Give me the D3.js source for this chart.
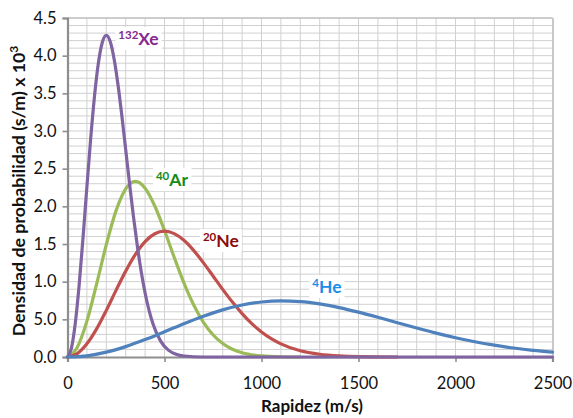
<!DOCTYPE html>
<html>
<head>
<meta charset="utf-8">
<script src="https://cdn.jsdelivr.net/npm/d3@7"></script>
<style>
  html, body { margin: 0; padding: 0; background: #fff; }
  svg { display: block; font-family: Lato, "Open Sans", sans-serif; }
</style>
</head>
<body>
<svg id="chart" width="573" height="418"></svg>
<script>
// Maxwell–Boltzmann speed distributions of four noble gases
// density in (s/m) x 10^3 versus speed in m/s

const xenon = [
  [0, 0], [20, 0.115], [40, 0.446], [60, 0.955], [80, 1.582], [100, 2.260],
  [120, 2.915], [140, 3.484], [160, 3.917], [180, 4.182], [200, 4.270],
  [220, 4.188], [240, 3.960], [260, 3.620], [280, 3.205], [300, 2.752],
  [320, 2.297], [340, 1.864], [360, 1.473], [380, 1.133], [400, 0.850],
  [440, 0.444], [480, 0.211], [520, 0.091], [560, 0.036], [600, 0.013],
  [700, 0], [1000, 0], [1500, 0], [2000, 0], [2500, 0]
];

const argon = [
  [0, 0], [50, 0.127], [100, 0.476], [150, 0.968], [200, 1.492], [250, 1.940],
  [300, 2.232], [350, 2.330], [400, 2.241], [450, 2.004], [500, 1.679],
  [550, 1.324], [600, 0.985], [650, 0.694], [700, 0.464], [750, 0.295],
  [800, 0.178], [850, 0.103], [900, 0.056], [1000, 0.015], [1100, 0.003],
  [1200, 0]
];

const neon = [
  [0, 0], [50, 0.045], [100, 0.175], [150, 0.373], [200, 0.619], [250, 0.884],
  [300, 1.140], [350, 1.363], [400, 1.532], [450, 1.636], [500, 1.670],
  [550, 1.638], [600, 1.549], [650, 1.416], [700, 1.253], [750, 1.076],
  [800, 0.898], [850, 0.729], [900, 0.576], [950, 0.443], [1000, 0.332],
  [1050, 0.243], [1100, 0.174], [1200, 0.082], [1300, 0.036], [1400, 0.014],
  [1500, 0.005], [1700, 0]
];

const helium = [
  [0, 0], [100, 0.016], [200, 0.064], [300, 0.138], [400, 0.231], [500, 0.335],
  [600, 0.442], [700, 0.541], [800, 0.626], [900, 0.690], [1000, 0.730],
  [1100, 0.745], [1200, 0.736], [1300, 0.705], [1400, 0.656], [1500, 0.595],
  [1600, 0.527], [1700, 0.455], [1800, 0.384], [1900, 0.317], [2000, 0.256],
  [2100, 0.202], [2200, 0.157], [2300, 0.119], [2400, 0.088], [2500, 0.064]
];

const xTicks = [0, 500, 1000, 1500, 2000, 2500];
const xTickLabels = ["0", "500", "1000", "1500", "2000", "2500"];
const yTicks = [0, 0.5, 1, 1.5, 2, 2.5, 3, 3.5, 4, 4.5];
const yTickLabels = ["0.0", "5.0", "1.0", "1.5", "2.0", "2.5", "3.0", "3.5", "4.0", "4.5"];

// isotope labels: mass number, symbol, anchor (speed, density)
const labels = [
  { mass: "132", sym: "Xe", v: 262, d: 4.14, color: "#86288f" },
  { mass: "40",  sym: "Ar", v: 456, d: 2.27, color: "#158a16" },
  { mass: "20",  sym: "Ne", v: 698, d: 1.46, color: "#8c0a0a" },
  { mass: "4",   sym: "He", v: 1262, d: 0.85, color: "#1a8ee6" }
];

const series = [
  { data: argon,  color: "#9bbb59" },
  { data: neon,   color: "#c0504d" },
  { data: xenon,  color: "#8064a2" },
  { data: helium, color: "#4f81bd" }
];

const svg = d3.select("#chart");
const plotLeft = 67.5, plotRight = 552.5, plotTop = 18, plotBottom = 357;

const x = d3.scaleLinear().domain([0, 2500]).range([plotLeft, plotRight]);
const y = d3.scaleLinear().domain([0, 4.5]).range([plotBottom, plotTop]);

// minor grid
const grid = svg.append("g");
grid.selectAll("line.v").data(d3.range(100, 2501, 100)).join("line")
  .attr("class", "v")
  .attr("x1", d => x(d)).attr("x2", d => x(d))
  .attr("y1", plotTop).attr("y2", plotBottom)
  .attr("stroke", "#d0d0d0").attr("stroke-width", 1);
grid.selectAll("line.h").data(d3.range(1, 46).map(i => i / 10)).join("line")
  .attr("class", "h")
  .attr("x1", plotLeft).attr("x2", plotRight)
  .attr("y1", d => y(d)).attr("y2", d => y(d))
  .attr("stroke", "#d0d0d0").attr("stroke-width", 1);

// plot frame on top and right
svg.append("line").attr("x1", plotLeft).attr("x2", plotRight).attr("y1", plotTop).attr("y2", plotTop)
  .attr("stroke", "#c4c4c4").attr("stroke-width", 1.5);
svg.append("line").attr("x1", plotRight + 0.5).attr("x2", plotRight + 0.5)
  .attr("y1", plotTop).attr("y2", plotBottom)
  .attr("stroke", "#c8c8c8").attr("stroke-width", 2);

// axes
const yAxis = d3.axisLeft(y).tickValues(yTicks)
  .tickFormat((d, i) => yTickLabels[i]).tickSize(5).tickPadding(6);
const xAxis = d3.axisBottom(x).tickValues(xTicks)
  .tickFormat((d, i) => xTickLabels[i]).tickSize(5).tickPadding(15);

const gy = svg.append("g").attr("transform", `translate(${plotLeft},0)`).call(yAxis);
const gx = svg.append("g").attr("transform", `translate(0,${plotBottom})`).call(xAxis);

[gx, gy].forEach(g => {
  g.select(".domain").attr("stroke", "#8e8e8e").attr("stroke-width", 2.2);
  g.selectAll(".tick line").attr("stroke", "#8e8e8e").attr("stroke-width", 1.6);
  g.selectAll(".tick text").attr("fill", "#111")
    .style("font-family", "Lato, sans-serif").style("font-size", "16.5px");
});

// curves
const line = d3.line()
  .x(d => x(d[0])).y(d => y(d[1]))
  .curve(d3.curveMonotoneX);

svg.append("g").selectAll("path").data(series).join("path")
  .attr("d", s => line(s.data))
  .attr("fill", "none")
  .attr("stroke", s => s.color)
  .attr("stroke-width", 3.2)
  .attr("stroke-linejoin", "round")
  .attr("stroke-linecap", "round");

// isotope labels with white backing
const lg = svg.append("g");
labels.forEach(l => {
  const g = lg.append("g");
  const bg = g.append("rect").attr("fill", "#fff");
  const t = g.append("text")
    .attr("x", x(l.v)).attr("y", y(l.d))
    .attr("fill", l.color)
    .style("font-family", "Lato, sans-serif")
    .style("font-weight", "bold");
  t.append("tspan").text(l.mass).style("font-size", "11.5px").attr("dy", "-6");
  t.append("tspan").text(l.sym).style("font-size", "17.5px").attr("dy", "6");
  const b = t.node().getBBox();
  bg.attr("x", b.x - 3).attr("y", b.y - 1).attr("width", b.width + 6).attr("height", b.height + 2);
});

// axis titles
svg.append("text")
  .attr("x", (plotLeft + plotRight) / 2 + 2).attr("y", 412)
  .attr("text-anchor", "middle")
  .style("font-family", "Lato, sans-serif").style("font-weight", "bold").style("font-size", "17px")
  .attr("fill", "#111")
  .text("Rapidez (m/s)");

const yt = svg.append("text")
  .attr("transform", `translate(25,191) rotate(-90)`)
  .attr("text-anchor", "middle")
  .style("font-family", "Lato, sans-serif").style("font-weight", "bold").style("font-size", "17.8px")
  .attr("fill", "#111");
yt.append("tspan").text("Densidad de probabilidad (s/m) x 10");
yt.append("tspan").text("3").style("font-size", "12px").attr("dy", "-7");
</script>
</body>
</html>
